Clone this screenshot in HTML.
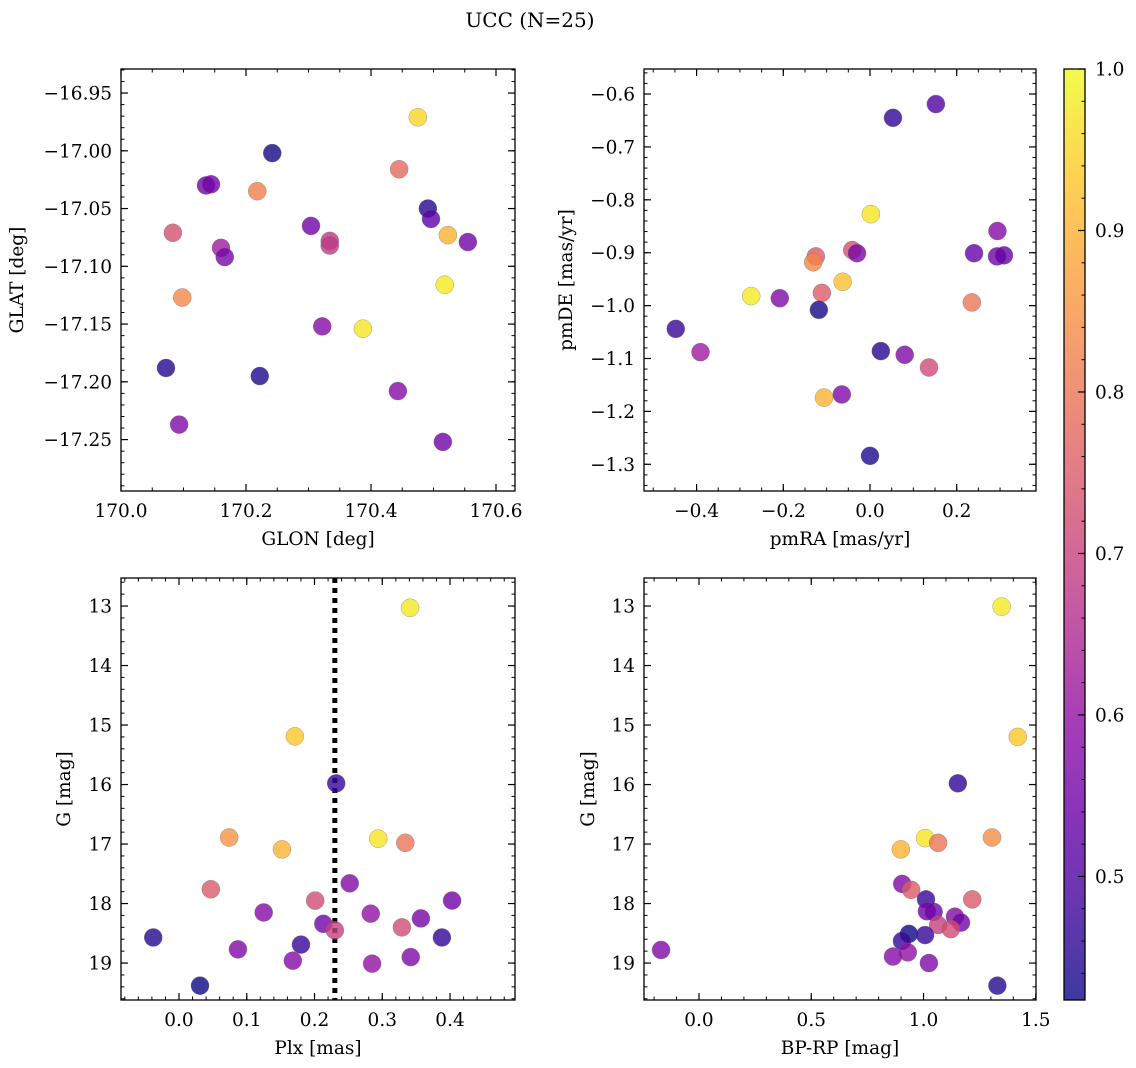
<!DOCTYPE html>
<html><head><meta charset="utf-8"><style>
html,body{margin:0;padding:0;background:#fff;}
svg{display:block;font-family:"DejaVu Serif","Liberation Serif",serif;}
</style></head><body>
<svg id="fig" width="1136" height="1068" viewBox="0 0 1136 1068">
<text x="530" y="27" text-anchor="middle" font-size="20">UCC (N=25)</text>
</svg>
<script>
// ---- data ----
const glon = [170.475,170.242,170.445,170.136,170.144,170.218,170.491,170.496,170.304,170.523,170.083,170.334,170.334,170.555,170.160,170.166,170.518,170.098,170.322,170.387,170.072,170.222,170.443,170.093,170.515];
const glat = [-16.971,-17.002,-17.016,-17.030,-17.029,-17.035,-17.050,-17.059,-17.065,-17.073,-17.071,-17.078,-17.082,-17.079,-17.084,-17.092,-17.116,-17.127,-17.152,-17.154,-17.188,-17.195,-17.208,-17.237,-17.252];
const probA = [0.95,0.43,0.78,0.55,0.55,0.82,0.45,0.52,0.55,0.90,0.73,0.68,0.68,0.55,0.62,0.56,0.98,0.83,0.58,0.97,0.45,0.44,0.58,0.57,0.55];

const pmra = [0.152,0.053,0.002,0.294,0.240,0.293,0.309,-0.125,-0.131,-0.041,-0.030,-0.063,-0.274,-0.208,-0.111,-0.118,0.235,-0.448,-0.391,0.025,0.080,0.136,-0.106,-0.065,0.000];
const pmde = [-0.619,-0.645,-0.827,-0.859,-0.901,-0.907,-0.905,-0.907,-0.918,-0.895,-0.901,-0.955,-0.982,-0.986,-0.976,-1.008,-0.994,-1.044,-1.088,-1.086,-1.093,-1.117,-1.174,-1.168,-1.284];
const probB = [0.50,0.46,0.97,0.58,0.53,0.55,0.53,0.75,0.83,0.73,0.56,0.92,0.98,0.57,0.75,0.43,0.80,0.47,0.62,0.45,0.57,0.72,0.90,0.57,0.44];

const plx = [0.341,0.171,0.232,0.074,0.152,0.294,0.334,0.047,0.252,0.201,0.125,0.283,0.357,0.403,0.213,0.230,0.329,-0.038,0.388,0.180,0.087,0.168,0.285,0.342,0.031];
const gmagC = [13.03,15.19,15.98,16.89,17.09,16.91,16.98,17.76,17.66,17.95,18.15,18.17,18.25,17.95,18.34,18.45,18.40,18.57,18.57,18.69,18.77,18.96,19.01,18.90,19.38];
const probC = [0.98,0.93,0.47,0.85,0.90,0.97,0.80,0.75,0.57,0.72,0.58,0.60,0.56,0.55,0.55,0.70,0.72,0.45,0.46,0.47,0.57,0.58,0.60,0.57,0.42];
const plxMean = [0.23];

const bprp = [1.348,1.420,1.153,1.007,1.065,1.305,0.899,0.905,0.945,1.011,1.217,1.015,1.045,1.140,1.167,1.065,1.122,0.935,0.904,1.007,0.864,0.930,1.024,-0.169,1.329];
const gmagD = [13.01,15.20,15.98,16.90,16.98,16.89,17.09,17.67,17.77,17.93,17.93,18.13,18.14,18.22,18.32,18.36,18.43,18.51,18.63,18.53,18.89,18.82,19.00,18.78,19.38];
const probD = [0.98,0.93,0.46,0.97,0.80,0.84,0.90,0.57,0.75,0.47,0.75,0.55,0.55,0.58,0.55,0.70,0.72,0.42,0.47,0.47,0.58,0.60,0.57,0.57,0.45];

const cbTicks = [0.5,0.6,0.7,0.8,0.9,1.0];
const VMIN = 0.4235, VMAX = 1.0;

// ---- helpers ----
const NS = "http://www.w3.org/2000/svg";
const svg = document.getElementById('fig');
function mk(tag, attrs, parent){const e=document.createElementNS(NS,tag);for(const k in attrs)e.setAttribute(k,attrs[k]);(parent||svg).appendChild(e);return e;}
const stops=[[13,8,135],[65,4,157],[106,0,168],[143,13,164],[177,42,144],[204,71,120],[225,100,98],[242,132,75],[252,166,54],[252,206,37],[240,249,33]];
function plasma(t){t=Math.max(0,Math.min(1,t));const s=t*10,i=Math.min(9,Math.floor(s)),f=s-i;const a=stops[i],b=stops[i+1];return `rgb(${a.map((v,k)=>Math.round(v+(b[k]-v)*f)).join(',')})`;}
function cmap(v){return plasma((v-VMIN)/(VMAX-VMIN));}
function fmt(v,d){const s=Math.abs(v).toFixed(d);return (v<-1e-9?'−':'')+s;}
const FS=18.5;

function panel(cfg){
  const g=mk('g',{});
  
  
  const {x0,x1,y0,y1,xmin,xmax,ymin,ymax}=cfg;
  const sx=v=>x0+(v-xmin)/(xmax-xmin)*(x1-x0);
  const sy=v=>cfg.invert? y0+(v-ymin)/(ymax-ymin)*(y1-y0) : y1-(v-ymin)/(ymax-ymin)*(y1-y0);
  const eps=1e-9;
  for(let v=Math.ceil(xmin/cfg.xminor-eps)*cfg.xminor; v<=xmax+eps; v+=cfg.xminor){
    const x=sx(v);
    mk('line',{x1:x,x2:x,y1:y1,y2:y1-3.5,stroke:'#000','stroke-width':1},g);
    mk('line',{x1:x,x2:x,y1:y0,y2:y0+3.5,stroke:'#000','stroke-width':1},g);
  }
  for(let v=Math.ceil(ymin/cfg.yminor-eps)*cfg.yminor; v<=ymax+eps; v+=cfg.yminor){
    const y=sy(v);
    mk('line',{x1:x0,x2:x0+3.5,y1:y,y2:y,stroke:'#000','stroke-width':1},g);
    mk('line',{x1:x1,x2:x1-3.5,y1:y,y2:y,stroke:'#000','stroke-width':1},g);
  }
  cfg.xticks.forEach(v=>{
    const x=sx(v);
    mk('line',{x1:x,x2:x,y1:y1,y2:y1-7,stroke:'#000','stroke-width':1.2},g);
    mk('line',{x1:x,x2:x,y1:y0,y2:y0+7,stroke:'#000','stroke-width':1.2},g);
    const t=mk('text',{x:x,y:y1+26,'text-anchor':'middle','font-size':FS},g);
    t.textContent=fmt(v,cfg.xdec);
    
    
  });
  cfg.yticks.forEach(v=>{
    const y=sy(v);
    mk('line',{x1:x0,x2:x0+7,y1:y,y2:y,stroke:'#000','stroke-width':1.2},g);
    mk('line',{x1:x1,x2:x1-7,y1:y,y2:y,stroke:'#000','stroke-width':1.2},g);
    const t=mk('text',{x:x0-9,y:y+6.5,'text-anchor':'end','font-size':FS},g);
    t.textContent=fmt(v,cfg.ydec);
    
    
  });
  if(cfg.vline!==undefined){
    const x=sx(cfg.vline);
    const l=mk('line',{x1:x,x2:x,y1:y0,y2:y1,stroke:'#000','stroke-width':5,'stroke-dasharray':'5,5'},g);
    
    
  }
  for(let i=0;i<cfg.xs.length;i++){
    const c=mk('circle',{cx:sx(cfg.xs[i]),cy:sy(cfg.ys[i]),r:9,fill:cmap(cfg.cs[i]),'fill-opacity':0.8,stroke:'#666','stroke-opacity':0.6,'stroke-width':0.5},g);
    
    
  }
  const fr=mk('rect',{x:x0,y:y0,width:x1-x0,height:y1-y0,fill:'none',stroke:'#000','stroke-width':1.3},g);
  
  
  const xl=mk('text',{x:(x0+x1)/2,y:y1+54,'text-anchor':'middle','font-size':FS},g);
  xl.textContent=cfg.xlabel;
  
  
  const yl=mk('text',{x:0,y:0,'text-anchor':'middle','font-size':FS,transform:`translate(${cfg.ylx},${(y0+y1)/2}) rotate(-90)`},g);
  yl.textContent=cfg.ylabel;
  
  
}

panel({name:'glon-glat-panel',x0:121,x1:515,y0:69,y1:491,xmin:170.0,xmax:170.6304,ymin:-17.2945,ymax:-16.9292,
  xticks:[170.0,170.2,170.4,170.6],xminor:0.05,xdec:1,yticks:[-16.95,-17.0,-17.05,-17.1,-17.15,-17.2,-17.25],yminor:0.01,ydec:2,
  xs:glon,ys:glat,cs:probA,xlabel:'GLON [deg]',ylabel:'GLAT [deg]',ylx:23});
panel({name:'pm-panel',x0:644,x1:1036,y0:69,y1:491,xmin:-0.5213,xmax:0.3829,ymin:-1.3505,ymax:-0.5527,
  xticks:[-0.4,-0.2,0.0,0.2],xminor:0.05,xdec:1,yticks:[-0.6,-0.7,-0.8,-0.9,-1.0,-1.1,-1.2,-1.3],yminor:0.02,ydec:1,
  xs:pmra,ys:pmde,cs:probB,xlabel:'pmRA [mas/yr]',ylabel:'pmDE [mas/yr]',ylx:572});
panel({name:'plx-g-panel',x0:121,x1:515,y0:578,y1:1000,xmin:-0.0856,xmax:0.4959,ymin:12.529,ymax:19.621,invert:true,
  xticks:[0.0,0.1,0.2,0.3,0.4],xminor:0.02,xdec:1,yticks:[13,14,15,16,17,18,19],yminor:0.2,ydec:0,
  xs:plx,ys:gmagC,cs:probC,vline:plxMean[0],xlabel:'Plx [mas]',ylabel:'G [mag]',ylx:70});
panel({name:'cmd-panel',x0:644,x1:1036,y0:578,y1:1000,xmin:-0.245,xmax:1.501,ymin:12.529,ymax:19.621,invert:true,
  xticks:[0.0,0.5,1.0,1.5],xminor:0.1,xdec:1,yticks:[13,14,15,16,17,18,19],yminor:0.2,ydec:0,
  xs:bprp,ys:gmagD,cs:probD,xlabel:'BP-RP [mag]',ylabel:'G [mag]',ylx:594});

// colorbar
(function(){
  const cb=mk('g',{});
  
  
  const X=1064,W=21,Y0=69,Y1=1000;
  const defs=mk('defs',{},cb);
  const lg=mk('linearGradient',{id:'cbg',x1:0,y1:1,x2:0,y2:0},defs);
  for(let i=0;i<=20;i++){mk('stop',{offset:i/20,'stop-color':plasma(i/20),'stop-opacity':0.8},lg);}
  mk('rect',{x:X,y:Y0,width:W,height:Y1-Y0,fill:'url(#cbg)'},cb);
  mk('rect',{x:X,y:Y0,width:W,height:Y1-Y0,fill:'none',stroke:'#000','stroke-width':1.3},cb);
  const sy=v=>Y1-(v-VMIN)/(VMAX-VMIN)*(Y1-Y0);
  for(let v=0.44;v<=1.0001;v+=0.02){const y=sy(v);mk('line',{x1:X+W,x2:X+W-3.5,y1:y,y2:y,stroke:'#000','stroke-width':1},cb);}
  cbTicks.forEach(v=>{const y=sy(v);
    mk('line',{x1:X+W,x2:X+W-7,y1:y,y2:y,stroke:'#000','stroke-width':1.2},cb);
    const t=mk('text',{x:X+W+10,y:y+6.5,'font-size':FS},cb);t.textContent=v.toFixed(1);
    
    
  });
})();
</script>
</body></html>
